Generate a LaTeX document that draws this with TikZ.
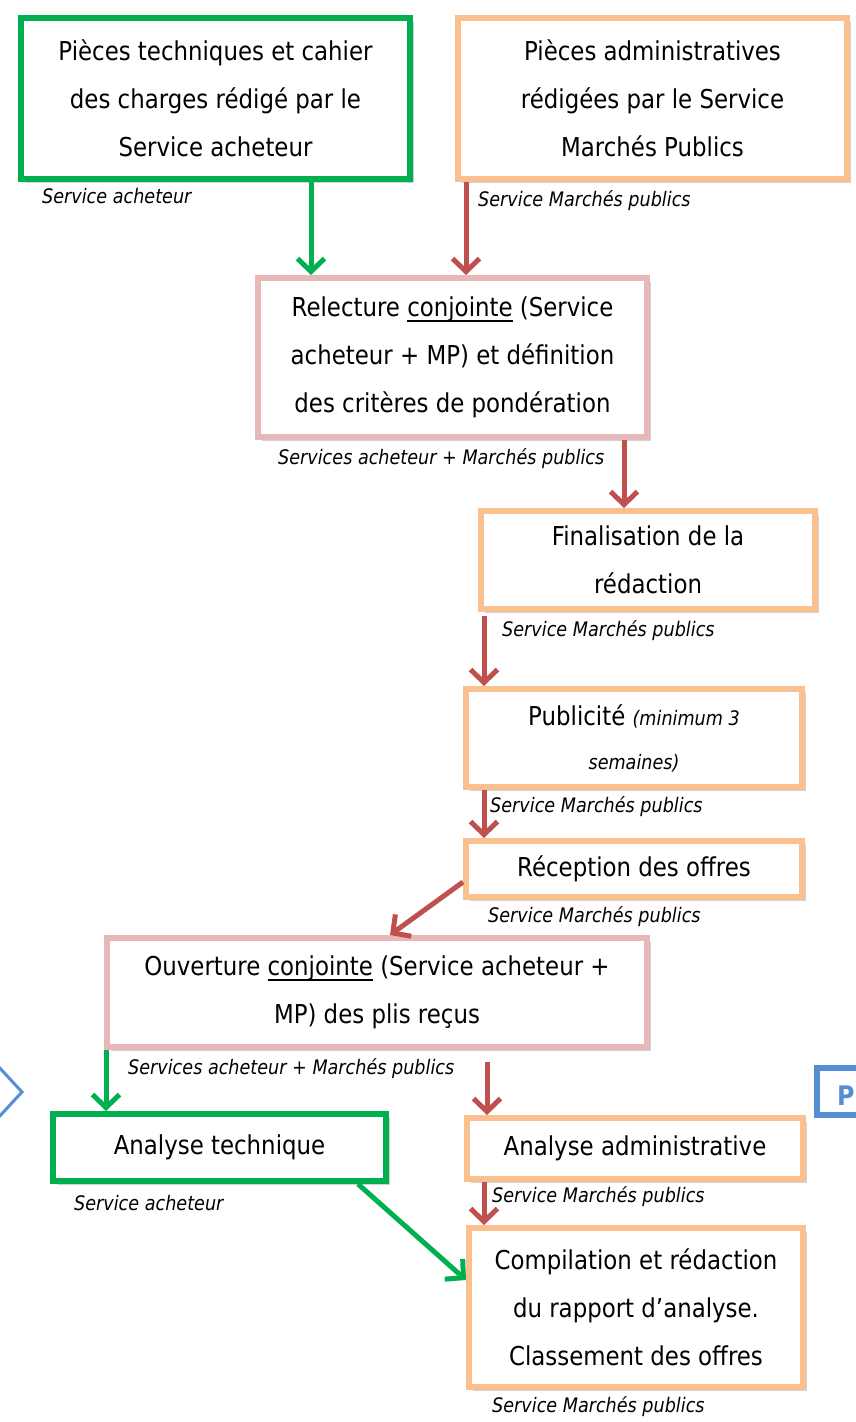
\documentclass[tikz,border=0pt]{standalone}
\usepackage{fontspec}
\setmainfont[FakeStretch=0.88]{DejaVu Sans}
\usetikzlibrary{arrows.meta,positioning,shadows}

\definecolor{vertsa}{RGB}{0,176,80}
\definecolor{orangemp}{RGB}{250,192,144}
\definecolor{rosejoint}{RGB}{230,185,184}
\definecolor{rougeflux}{RGB}{192,80,77}
\definecolor{bleuext}{RGB}{85,142,213}

\newcommand{\souligne}[1]{\setbox0\hbox{#1}\rlap{\rule[-5pt]{\wd0}{1.6pt}}\box0\relax}

\begin{document}
\begin{tikzpicture}[x=1pt, y=-1pt,
    boite/.style={draw, fill=white, line width=6pt, align=center, inner sep=0pt,
        font=\fontsize{26}{48}\selectfont,
        drop shadow={shadow xshift=3.5pt, shadow yshift=-3.5pt, fill=black!35, opacity=0.5}},
    boitesa/.style={boite, draw=vertsa},
    boitemp/.style={boite, draw=orangemp},
    boitejoint/.style={boite, draw=rosejoint},
    service/.style={anchor=base west, inner sep=0pt, font=\fontsize{20}{24}\selectfont\itshape},
    fleche/.style={line width=5pt, -{Straight Barb[length=13pt, width=27pt]}},
    flechesa/.style={fleche, draw=vertsa},
    flechemp/.style={fleche, draw=rougeflux}]
    \useasboundingbox[fill=white] (0,0) rectangle (855,1422);

    \node[boitesa, minimum width=389pt, minimum height=161pt] (piecestech) at (215.5,98.5)
        {Pièces techniques et cahier\\des charges rédigé par le\\Service acheteur};
    \node[boitemp, minimum width=389pt, minimum height=161pt] (piecesadmin) at (652.5,98.5)
        {Pièces administratives\\rédigées par le Service\\Marchés Publics};
    \node[boitejoint, minimum width=389pt, minimum height=159pt] (relecture) at (452.5,357.5)
        {Relecture \souligne{conjointe} (Service\\acheteur + MP) et définition\\des critères de pondération};
    \node[boitemp, minimum width=334pt, minimum height=98pt] (finalisation) at (648,560)
        {Finalisation de la\\rédaction};
    \node[boitemp, minimum width=336pt, minimum height=98pt] (publicite) at (634,738)
        {Publicité {\fontsize{20}{24}\selectfont\itshape (minimum 3}\\[-4pt]{\fontsize{20}{24}\selectfont\itshape semaines)}};
    \node[boitemp, minimum width=336pt, minimum height=56pt] (reception) at (634,869)
        {Réception des offres};
    \node[boitejoint, minimum width=540pt, minimum height=109pt] (ouverture) at (377,992.5)
        {Ouverture \souligne{conjointe} (Service acheteur +\\MP) des plis reçus};
    \node[boitesa, minimum width=333pt, minimum height=67pt] (analysetech) at (219.5,1147.5)
        {Analyse technique};
    \node[boitemp, minimum width=336pt, minimum height=61pt] (analyseadmin) at (635,1148.5)
        {Analyse administrative};
    \node[boitemp, minimum width=334pt, minimum height=159pt] (compilation) at (636,1307.5)
        {Compilation et rédaction\\du rapport d’analyse.\\Classement des offres};

    \node[service] (svcpiecestech) at ([shift={(24pt,-21pt)}]piecestech.south west) {Service acheteur};
    \node[service] (svcpiecesadmin) at ([shift={(23pt,-24pt)}]piecesadmin.south west) {Service Marchés publics};
    \node[service] (svcrelecture) at ([shift={(23pt,-24pt)}]relecture.south west) {Services acheteur + Marchés publics};
    \node[service] (svcfinalisation) at ([shift={(24pt,-24pt)}]finalisation.south west) {Service Marchés publics};
    \node[service] (svcpublicite) at ([shift={(27pt,-22pt)}]publicite.south west) {Service Marchés publics};
    \node[service] (svcreception) at ([shift={(25pt,-22pt)}]reception.south west) {Service Marchés publics};
    \node[service] (svcouverture) at ([shift={(24pt,-24pt)}]ouverture.south west) {Services acheteur + Marchés publics};
    \node[service] (svcanalysetech) at ([shift={(24pt,-26pt)}]analysetech.south west) {Service acheteur};
    \node[service] (svcanalyseadmin) at ([shift={(28pt,-20pt)}]analyseadmin.south west) {Service Marchés publics};
    \node[service] (svccompilation) at ([shift={(26pt,-22pt)}]compilation.south west) {Service Marchés publics};

    \draw[flechesa] ([xshift=95.5pt]piecestech.south) -- ([xshift=95.5pt]piecestech.south |- relecture.north);
    \draw[flechemp] ([xshift=-186.5pt]piecesadmin.south) -- ([xshift=-186.5pt]piecesadmin.south |- relecture.north);
    \draw[flechemp] ([xshift=171.5pt]relecture.south) -- ([xshift=171.5pt]relecture.south |- finalisation.north);
    \draw[flechemp] ([xshift=-164pt,yshift=-4pt]finalisation.south) -- ([xshift=-164pt]finalisation.south |- publicite.north);
    \draw[flechemp] ([xshift=-150pt]publicite.south) -- ([xshift=-150pt]publicite.south |- reception.north);
    \draw[flechemp] ([yshift=-13pt]reception.west) -- ([xshift=13pt]ouverture.north);
    \draw[flechesa] ([xshift=2pt]ouverture.south west) -- ([xshift=2pt]ouverture.south west |- analysetech.north);
    \draw[flechemp] ([xshift=110pt,yshift=-12pt]ouverture.south) -- ([xshift=110pt]ouverture.south |- analyseadmin.north);
    \draw[flechemp] ([xshift=-151pt]analyseadmin.south) -- ([xshift=-151pt]analyseadmin.south |- compilation.north);
    \draw[flechesa] ([xshift=138.5pt]analysetech.south) -- ([yshift=27.5pt]compilation.west);

    \draw[bleuext, line width=3pt] (-3,1065) -- (22,1092) -- (-3,1119);
    \draw[bleuext, line width=6pt] (817,1068) rectangle (900,1115);
    \node[anchor=base west, inner sep=0pt, text=bleuext, font=\fontsize{27}{30}\selectfont\bfseries] (etapesuivante) at (837,1105) {P};
\end{tikzpicture}
\end{document}
